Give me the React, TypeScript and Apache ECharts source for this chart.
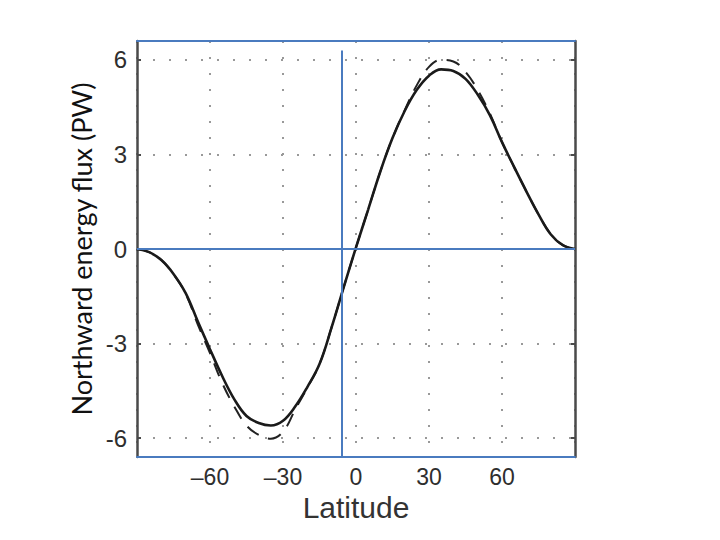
import React, { useEffect, useRef } from "react";
import * as echarts from "echarts";

const latitudes = [-90, -85, -80, -75, -70, -65, -60, -55, -50, -45, -40, -35, -30, -25, -20, -15, -10, -5, 0, 5, 10, 15, 20, 25, 30, 35, 40, 45, 50, 55, 60, 65, 70, 75, 80, 85, 90];
const fluxSolid = [0, -0.1, -0.35, -0.79, -1.4, -2.3, -3.18, -4.03, -4.77, -5.3, -5.52, -5.6, -5.45, -5.0, -4.38, -3.65, -2.48, -1.2, 0.05, 1.25, 2.46, 3.52, 4.38, 5.05, 5.5, 5.7, 5.65, 5.4, 4.9, 4.25, 3.39, 2.6, 1.83, 1.1, 0.47, 0.12, 0];
const fluxDashed = [0, -0.1, -0.35, -0.8, -1.42, -2.4, -3.3, -4.25, -5.0, -5.6, -5.9, -6.02, -5.8, -5.1, -4.4, -3.65, -2.48, -1.2, 0.05, 1.25, 2.46, 3.52, 4.4, 5.2, 5.78, 6.0, 5.95, 5.62, 5.05, 4.3, 3.39, 2.6, 1.83, 1.1, 0.47, 0.12, 0];
const yTicks = [-6, -3, 0, 3, 6];
const yRange = [-6.6, 6.6];
const xRange = [-90, 90];
const refLat = -5.7;
const refLineTop = 6.3;

const BLUE = "#4A7BBF";
const DARK = "#4a4a4a";

export default function App() {
  const ref = useRef<HTMLDivElement>(null);
  useEffect(() => {
    if (!ref.current) return;
    const chart = echarts.init(ref.current, undefined, { renderer: "svg" });
    const gridDots = { show: true, lineStyle: { color: "#999", width: 2, type: [2, 14] as any } };
    const tickFont = { fontFamily: "Liberation Sans, Arial, sans-serif", fontSize: 23, color: "#2e2e2e" };
    chart.setOption({
      animation: false,
      backgroundColor: "#ffffff",
      grid: { left: 137, right: 145, top: 41, bottom: 83 },
      xAxis: [
        {
          type: "value",
          min: xRange[0],
          max: xRange[1],
          interval: 30,
          position: "bottom",
          axisLine: { show: true, onZero: false, lineStyle: { color: BLUE, width: 2 } },
          axisTick: { show: false },
          splitLine: gridDots,
          axisLabel: {
            margin: 8,
            ...tickFont,
            formatter: (v: number) => (v === -90 || v === 90 ? "" : v < 0 ? "\u2013" + Math.abs(v) : String(v)),
          },
          name: "Latitude",
          nameLocation: "middle",
          nameGap: 35,
          nameTextStyle: { fontFamily: "Liberation Sans, Arial, sans-serif", fontSize: 30, color: "#333" },
        },
        {
          type: "value",
          min: xRange[0],
          max: xRange[1],
          interval: 30,
          position: "top",
          axisLine: { show: true, onZero: false, lineStyle: { color: BLUE, width: 2 } },
          axisTick: { show: false },
          axisLabel: { show: false },
          splitLine: { show: false },
        },
      ],
      yAxis: [
        {
          type: "value",
          min: yRange[0],
          max: yRange[1],
          position: "left",
          axisLine: { show: true, onZero: false, lineStyle: { color: DARK, width: 2.5 } },
          axisTick: { show: true, inside: true, length: 4, customValues: yTicks, lineStyle: { color: DARK, width: 2 } },
          splitLine: gridDots,
          axisLabel: {
            customValues: yTicks,
            margin: 10,
            ...tickFont,
            fontSize: 24,
          },
          name: "Northward energy flux (PW)",
          nameLocation: "middle",
          nameGap: 38,
          nameRotate: 90,
          nameTextStyle: { fontFamily: "Lato, 'Open Sans', sans-serif", fontSize: 27, color: "#111" },
        },
        {
          type: "value",
          min: yRange[0],
          max: yRange[1],
          position: "right",
          axisLine: { show: true, onZero: false, lineStyle: { color: DARK, width: 2.5 } },
          axisTick: { show: true, inside: true, length: 4, customValues: yTicks, lineStyle: { color: DARK, width: 2 } },
          axisLabel: { show: false },
          splitLine: { show: false },
        },
      ],
      series: [
        {
          type: "line",
          data: latitudes.map((x, i) => [x, fluxDashed[i]]),
          smooth: 0.4,
          showSymbol: false,
          lineStyle: { color: "#222", width: 2, type: [14, 10] as any },
          z: 3,
        },
        {
          type: "line",
          data: latitudes.map((x, i) => [x, fluxSolid[i]]),
          smooth: 0.4,
          showSymbol: false,
          lineStyle: { color: "#1a1a1a", width: 2.6 },
          z: 4,
        },
        {
          type: "line",
          data: [],
          z: 6,
          markLine: {
            silent: true,
            symbol: ["none", "none"],
            label: { show: false },
            lineStyle: { color: BLUE, width: 2, type: "solid" },
            data: [
              [{ coord: [xRange[0], 0] }, { coord: [xRange[1], 0] }],
              [{ coord: [refLat, yRange[0]] }, { coord: [refLat, refLineTop] }],
            ],
          },
        },
      ],
    });
    return () => chart.dispose();
  }, []);
  return <div ref={ref} style={{ position: "fixed", left: 0, top: 0, width: 720, height: 540, background: "#fff" }} />;
}
